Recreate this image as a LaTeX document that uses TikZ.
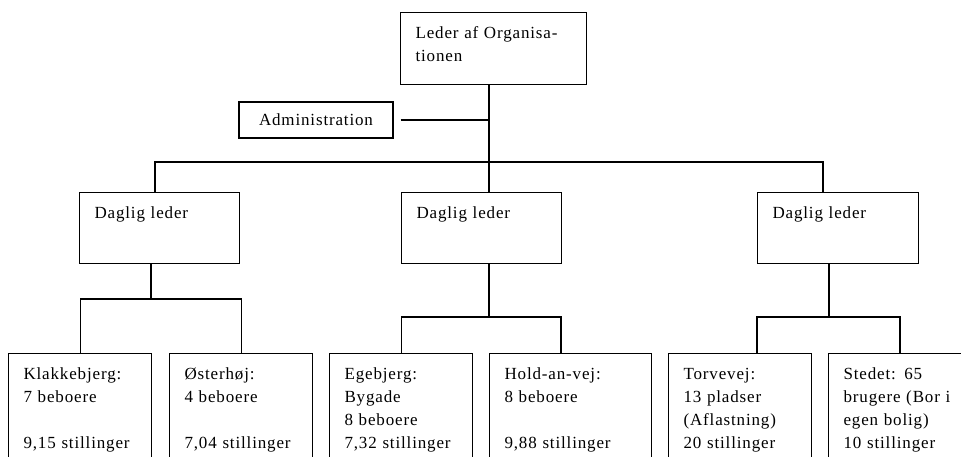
\documentclass[tikz,border=0pt]{standalone}
\usepackage{fontspec}
\setmainfont[LetterSpace=5]{Liberation Serif}
\usetikzlibrary{positioning}

\tikzset{
  unit/.style={draw, line width=1.1pt, anchor=north west, align=left,
    inner xsep=15pt, inner ysep=0pt, text height=26pt, text width=#1,
    font=\fontsize{17}{23}\selectfont},
  link/.style={line width=1.1pt}
}

\begin{document}
\begin{tikzpicture}[x=1pt,y=-1pt]
\fill[white] (0,0) rectangle (961,456);
\useasboundingbox (0,0) rectangle (961,456);
\clip (0,0) rectangle (961,456);

\node[unit=156pt, text depth=46pt] (top) at (400,12) {Leder af Organisa-\\tionen};
\node[draw, line width=1.1pt, minimum width=154pt, minimum height=36pt,
  font=\fontsize{17}{23}\selectfont] (adm) at (316,120) {Administration};

\node[unit=130pt, text depth=45pt] (d1) at (79,192) {Daglig leder};
\node[unit=130pt, text depth=45pt] (d2) at (401,192) {Daglig leder};
\node[unit=131pt, text depth=45pt] (d3) at (757,192) {Daglig leder};

\node[unit=113pt, text depth=101pt] (k1) at (8,353) {Klakkebjerg:\\7 beboere\\~\\9,15 stillinger};
\node[unit=113pt, text depth=101pt] (k2) at (169,353) {Østerhøj:\\4 beboere\\~\\7,04 stillinger};
\node[unit=113pt, text depth=101pt] (k3) at (329,353) {Egebjerg:\\Bygade\\8 beboere\\7,32 stillinger};
\node[unit=132pt, text depth=101pt] (k4) at (489,353) {Hold-an-vej:\\8 beboere\\~\\9,88 stillinger};
\node[unit=113pt, text depth=101pt] (k5) at (668,353) {Torvevej:\\13 pladser\\(Aflastning)\\20 stillinger};
\node[unit=130pt, text depth=101pt] (k6) at (828,353) {Stedet: 65\\brugere (Bor i\\egen bolig)\\10 stillinger};

\coordinate (j0) at (489,162);
\coordinate (j1) at (155,162);
\coordinate (j3) at (823,162);
\coordinate (g1) at (151,299);
\coordinate (g2) at (489,317);
\coordinate (g2r) at (561,317);
\coordinate (g3) at (829,317);
\coordinate (g3l) at (757,317);
\coordinate (g3r) at (900,317);

\draw[link] (top.south -| j0) -- (j0 |- d2.north);
\draw[link, shorten <=7pt] (adm.east) -- (adm.east -| j0);
\draw[link] (j1 |- d1.north) -- (j1) -- (j3) -- (j3 |- d3.north);

\draw[link] (g1 |- d1.south) -- (g1);
\draw[link] (k1.north) |- (g1) -| (k2.north);

\draw[link] (g2 |- d2.south) -- (g2);
\draw[link] (k3.north) |- (g2r) -- (g2r |- k4.north);

\draw[link] (g3 |- d3.south) -- (g3);
\draw[link] (g3l |- k5.north) -- (g3l) -- (g3r) -- (g3r |- k6.north);
\end{tikzpicture}
\end{document}
